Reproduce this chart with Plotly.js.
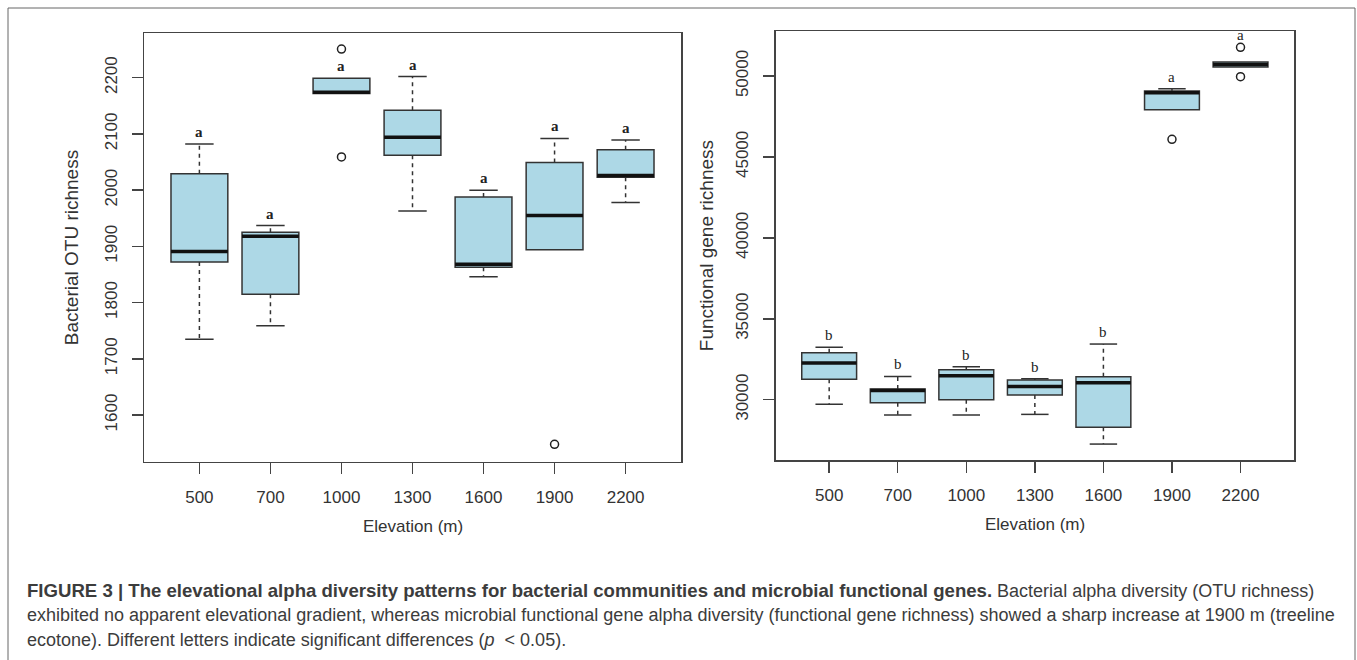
<!DOCTYPE html>
<html>
<head>
<meta charset="utf-8">
<script src="https://cdn.plot.ly/plotly-3.0.1.min.js"></script>
<style>html,body{margin:0;padding:0;background:#fff;}#chart{width:1357px;height:660px;}</style>
</head>
<body>
<div id="chart"></div>
<script>
// ---------- data ----------
const elevations = ['500', '700', '1000', '1300', '1600', '1900', '2200'];

// Left panel: bacterial OTU richness
const bacLower  = [1735, 1759, 2172, 1963, 1846, 1894, 1978];
const bacQ1     = [1872, 1815, 2172, 2062, 1863, 1894, 2023];
const bacMedian = [1891, 1918, 2174, 2094, 1868, 1955, 2026];
const bacQ3     = [2029, 1925, 2199, 2142, 1988, 2049, 2072];
const bacUpper  = [2082, 1937, 2199, 2202, 2000, 2092, 2089];
const bacOutlierGroup = ['1000', '1000', '1900'];
const bacOutlierValue = [2251, 2059, 1548];
const bacLetters = ['a', 'a', 'a', 'a', 'a', 'a', 'a'];

// Right panel: functional gene richness
const funLower  = [29711, 29050, 29050, 29093, 27258, 47918, 50556];
const funQ1     = [31256, 29810, 30000, 30286, 28290, 47918, 50556];
const funMedian = [32263, 30575, 31479, 30823, 31046, 48968, 50710];
const funQ3     = [32900, 30657, 31850, 31213, 31417, 49073, 50865];
const funUpper  = [33233, 31441, 32035, 31293, 33438, 49216, 50865];
const funOutlierGroup = ['1900', '2200', '2200'];
const funOutlierValue = [46088, 51773, 49957];
const funLetters = ['b', 'b', 'b', 'b', 'b', 'a', 'a'];

const xTitle = 'Elevation (m)';
const yTitleLeft = 'Bacterial OTU richness';
const yTitleRight = 'Functional gene richness';
const captionBold = 'FIGURE 3 | The elevational alpha diversity patterns for bacterial communities and microbial functional genes.';
const captionLines = [
  ' Bacterial alpha diversity (OTU richness)',
  'exhibited no apparent elevational gradient, whereas microbial functional gene alpha diversity (functional gene richness) showed a sharp increase at 1900 m (treeline',
  'ecotone). Different letters indicate significant differences (<i>p</i>  &lt; 0.05).'
];

// ---------- helpers ----------
const W = 1357, H = 660;
const px = v => v / W;
const py = v => 1 - v / H;
const pos = elevations.map((_, i) => i + 1);
const SANS = 'Liberation Sans, Arial, Helvetica, sans-serif';
const SERIF = 'Liberation Serif, Times New Roman, serif';
const LINE = '#333';
const BOXW = 0.8, CAPW = 0.4;

const traces = [];
const annotations = [];

function panel(xa, ya, lower, q1, med, q3, upper, outG, outV, letters, bold, letterAboveOutliers) {
  const xr = xa === 'x1' ? 'x' : xa, yr = ya === 'y1' ? 'y' : ya;
  traces.push({
    type: 'box', x: pos, q1: q1, median: med, q3: q3, lowerfence: q1, upperfence: q3,
    xaxis: xr, yaxis: yr, width: BOXW, whiskerwidth: 0, boxpoints: false,
    fillcolor: '#ADD8E6', line: {color: LINE, width: 1.5}, hoverinfo: 'skip', showlegend: false
  });
  const wx = [], wy = [], cx = [], cy = [], mx = [], my = [];
  pos.forEach((p, i) => {
    if (upper[i] > q3[i]) { wx.push(p, p, null); wy.push(q3[i], upper[i], null);
      cx.push(p - CAPW / 2, p + CAPW / 2, null); cy.push(upper[i], upper[i], null); }
    if (lower[i] < q1[i]) { wx.push(p, p, null); wy.push(q1[i], lower[i], null);
      cx.push(p - CAPW / 2, p + CAPW / 2, null); cy.push(lower[i], lower[i], null); }
    mx.push(p - BOXW / 2, p + BOXW / 2, null); my.push(med[i], med[i], null);
  });
  traces.push({type: 'scatter', mode: 'lines', x: wx, y: wy, xaxis: xr, yaxis: yr,
    line: {color: LINE, width: 1.5, dash: '4px,4px'}, hoverinfo: 'skip', showlegend: false});
  traces.push({type: 'scatter', mode: 'lines', x: cx, y: cy, xaxis: xr, yaxis: yr,
    line: {color: LINE, width: 1.5}, hoverinfo: 'skip', showlegend: false});
  traces.push({type: 'scatter', mode: 'lines', x: mx, y: my, xaxis: xr, yaxis: yr,
    line: {color: '#111', width: 3.5}, hoverinfo: 'skip', showlegend: false});
  traces.push({type: 'scatter', mode: 'markers',
    x: outG.map(g => elevations.indexOf(g) + 1), y: outV, xaxis: xr, yaxis: yr,
    marker: {symbol: 'circle-open', size: 8, color: '#222', line: {width: 1.5}},
    hoverinfo: 'skip', showlegend: false});
  letters.forEach((L, i) => {
    let top = upper[i];
    if (letterAboveOutliers) outG.forEach((g, j) => { if (elevations.indexOf(g) === i && outV[j] > top) top = outV[j]; });
    annotations.push({xref: xr, yref: yr, x: pos[i], y: top, text: bold ? '<b>' + L + '</b>' : L,
      showarrow: false, yanchor: 'middle', yshift: 12,
      font: {family: SERIF, size: 15, color: '#222'}});
  });
}

panel('x1', 'y1', bacLower, bacQ1, bacMedian, bacQ3, bacUpper, bacOutlierGroup, bacOutlierValue, bacLetters, true, false);
panel('x2', 'y2', funLower, funQ1, funMedian, funQ3, funUpper, funOutlierGroup, funOutlierValue, funLetters, false, true);

// axis titles
annotations.push({xref: 'paper', yref: 'paper', x: px(412.5), y: py(526), text: xTitle, showarrow: false,
  xanchor: 'center', yanchor: 'middle', font: {family: SANS, size: 17, color: '#333'}});
annotations.push({xref: 'paper', yref: 'paper', x: px(1035), y: py(524), text: xTitle, showarrow: false,
  xanchor: 'center', yanchor: 'middle', font: {family: SANS, size: 17, color: '#333'}});
annotations.push({xref: 'paper', yref: 'paper', x: px(71.7), y: py(247.5), text: yTitleLeft, showarrow: false,
  textangle: -90, xanchor: 'center', yanchor: 'middle', font: {family: SANS, size: 19, color: '#333'}});
annotations.push({xref: 'paper', yref: 'paper', x: px(706.7), y: py(245.5), text: yTitleRight, showarrow: false,
  textangle: -90, xanchor: 'center', yanchor: 'middle', font: {family: SANS, size: 19, color: '#333'}});

// caption
captionLines.forEach((t, i) => {
  const txt = i === 0 ? '<b><span style="font-size:18.6px">' + captionBold + '</span></b>' + t : t;
  annotations.push({xref: 'paper', yref: 'paper', x: px(25), y: py(590 + 25 * i), text: txt, showarrow: false,
    xanchor: 'left', yanchor: 'middle', align: 'left', font: {family: SANS, size: 18, color: '#3c3c3c'}});
});

const axX = {
  range: [0.22, 7.78], tickvals: pos, ticktext: elevations, showgrid: false, zeroline: false,
  showline: true, mirror: true, linecolor: '#444', linewidth: 1.5, ticks: 'outside', ticklen: 11,
  tickwidth: 1.5, tickcolor: '#444', ticklabelstandoff: 8, tickfont: {family: SANS, size: 17, color: '#333'},
  fixedrange: true
};
const axY = {
  showgrid: false, zeroline: false, showline: true, mirror: true, linecolor: '#444', linewidth: 1.5,
  ticks: 'outside', ticklen: 11, tickwidth: 1.5, tickcolor: '#444', tickangle: -90, tickformat: 'd',
  ticklabelstandoff: 8, tickfont: {family: SANS, size: 17, color: '#333'}, fixedrange: true
};

const layout = {
  width: W, height: H, margin: {l: 0, r: 0, t: 0, b: 0},
  paper_bgcolor: '#fff', plot_bgcolor: '#fff', showlegend: false,
  xaxis: Object.assign({}, axX, {domain: [px(144), px(681)], anchor: 'y'}),
  yaxis: Object.assign({}, axY, {domain: [py(461.7), py(33)], range: [1517, 2279.5], tick0: 1600, dtick: 100, anchor: 'x'}),
  xaxis2: Object.assign({}, axX, {domain: [px(775.7), px(1294)], anchor: 'y2'}),
  yaxis2: Object.assign({}, axY, {domain: [py(460), py(31)], range: [26274, 52781], tick0: 30000, dtick: 5000, anchor: 'x2'}),
  annotations: annotations,
  shapes: [{type: 'rect', xref: 'paper', yref: 'paper', x0: px(8), x1: px(1355), y0: -0.05, y1: py(8),
    line: {color: '#666', width: 1}, fillcolor: 'rgba(0,0,0,0)'}]
};

Plotly.newPlot('chart', traces, layout, {displayModeBar: false, staticPlot: true});
</script>
</body>
</html>
